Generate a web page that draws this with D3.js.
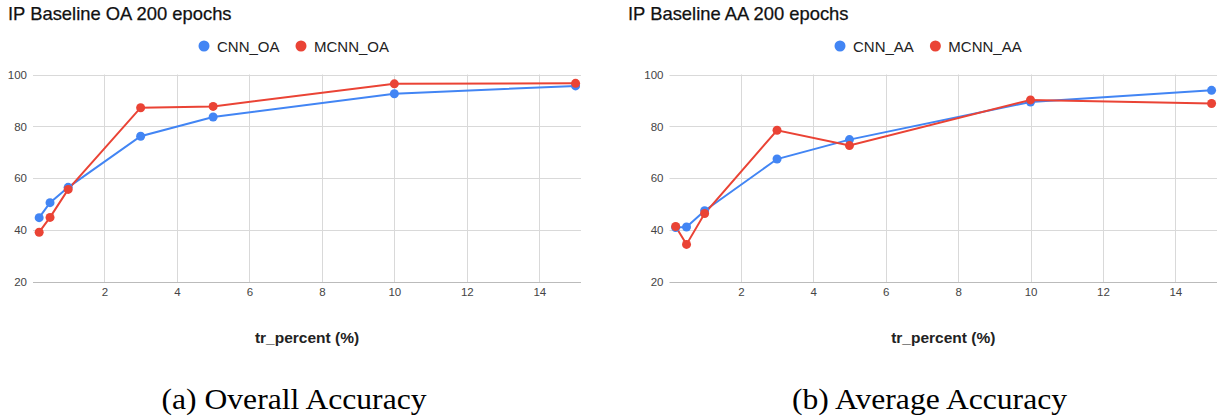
<!DOCTYPE html>
<html>
<head>
<meta charset="utf-8">
<script src="https://cdn.jsdelivr.net/npm/d3@7"></script>
<style>
  body { margin: 0; background: #fff; }
  svg { display: block; }
</style>
</head>
<body>
<div id="chart"></div>
<script>
// Training percentages (x values)
const trPercent = [0.2, 0.5, 1, 3, 5, 10, 15];

// Overall accuracy
const cnnOA = [44.8, 50.6, 56.5, 76.2, 83.6, 92.6, 95.6];
const mcnnOA = [39.2, 44.9, 55.7, 87.2, 87.7, 96.4, 96.6];

// Average accuracy
const cnnAA = [41.0, 41.2, 47.5, 67.4, 74.9, 89.4, 93.9];
const mcnnAA = [41.4, 34.5, 46.4, 78.5, 72.6, 90.2, 88.8];

const xTicks = [2, 4, 6, 8, 10, 12, 14];
const yTicks = [20, 40, 60, 80, 100];

const blue = '#4285f4', red = '#ea4335';
const sans = '"Liberation Sans", Arial, sans-serif';

const svgWidth = 1225, svgHeight = 417;
const svg = d3.select('#chart')
    .append('svg')
    .attr('width', svgWidth)
    .attr('height', svgHeight);

const panels = [
    { left: 0, title: 'IP Baseline OA 200 epochs', names: ['CNN_OA', 'MCNN_OA'],
      series: [cnnOA, mcnnOA], plotX: [33, 581], legendX: 204,
      caption: '(a) Overall Accuracy', captionX: 294, captionW: 265 },
    { left: 620, title: 'IP Baseline AA 200 epochs', names: ['CNN_AA', 'MCNN_AA'],
      series: [cnnAA, mcnnAA], plotX: [669.5, 1217], legendX: 840,
      caption: '(b) Average Accuracy', captionX: 929.5, captionW: 275 }
];

panels.forEach(p => {
    const g = svg.append('g');

    // Scales
    const x = d3.scaleLinear().domain([0.03, 15.15]).range(p.plotX);
    const y = d3.scaleLinear().domain([20, 100]).range([282, 74.5]);

    // Title
    g.append('text')
        .attr('x', p.left + 8)
        .attr('y', 19.5)
        .style('font-family', sans)
        .style('font-size', '18.4px')
        .style('fill', '#111')
        .style('stroke', '#111')
        .style('stroke-width', 0.25)
        .text(p.title);

    // Gridlines
    g.selectAll('.hgrid')
        .data(yTicks)
        .enter()
        .append('line')
        .attr('x1', p.plotX[0])
        .attr('x2', p.plotX[1])
        .attr('y1', d => Math.round(y(d)) + 0.5)
        .attr('y2', d => Math.round(y(d)) + 0.5)
        .attr('stroke', d => d === 20 ? '#bbb' : '#d9d9d9')
        .attr('stroke-width', 1);

    g.selectAll('.vgrid')
        .data(xTicks)
        .enter()
        .append('line')
        .attr('x1', d => Math.round(x(d)) + 0.5)
        .attr('x2', d => Math.round(x(d)) + 0.5)
        .attr('y1', y(100))
        .attr('y2', y(20))
        .attr('stroke', '#d9d9d9')
        .attr('stroke-width', 1);

    // Axes with no domain path, only labels
    const yAxis = g.append('g')
        .attr('transform', `translate(${p.plotX[0] - 6}, 0)`)
        .call(d3.axisLeft(y).tickValues(yTicks).tickSize(0).tickPadding(0));
    yAxis.select('.domain').remove();
    yAxis.selectAll('text')
        .style('font-family', sans)
        .style('font-size', '11.5px')
        .style('fill', '#444');

    const xAxis = g.append('g')
        .attr('transform', `translate(0, ${y(20) + 6})`)
        .call(d3.axisBottom(x).tickValues(xTicks).tickSize(0).tickPadding(0));
    xAxis.select('.domain').remove();
    xAxis.selectAll('text')
        .style('font-family', sans)
        .style('font-size', '11.5px')
        .style('fill', '#444');

    // X axis title
    g.append('text')
        .attr('x', (p.plotX[0] + p.plotX[1]) / 2)
        .attr('y', 343)
        .attr('text-anchor', 'middle')
        .style('font-family', sans)
        .style('font-size', '15.5px')
        .style('font-weight', 'bold')
        .style('fill', '#222')
        .text('tr_percent (%)');

    // Lines and points
    const line = d3.line()
        .x((d, i) => x(trPercent[i]))
        .y(d => y(d));

    const colors = [blue, red];
    p.series.forEach((s, k) => {
        g.append('path')
            .datum(s)
            .attr('fill', 'none')
            .attr('stroke', colors[k])
            .attr('stroke-width', 2)
            .attr('d', line);
    });
    p.series.forEach((s, k) => {
        g.selectAll('.pt' + k)
            .data(s)
            .enter()
            .append('circle')
            .attr('cx', (d, i) => x(trPercent[i]))
            .attr('cy', d => y(d))
            .attr('r', 4.5)
            .attr('fill', colors[k]);
    });

    // Legend
    const legend = g.append('g').attr('transform', `translate(${p.legendX}, 46)`);
    let lx = 0;
    p.names.forEach((name, k) => {
        legend.append('circle')
            .attr('cx', lx)
            .attr('cy', 0)
            .attr('r', 5.5)
            .attr('fill', colors[k]);
        const t = legend.append('text')
            .attr('x', lx + 13)
            .attr('y', 5.5)
            .style('font-family', sans)
            .style('font-size', '15px')
            .style('fill', '#222')
            .text(name);
        lx += 13 + t.node().getComputedTextLength() + 21.5;
    });

    // Caption
    g.append('text')
        .attr('x', p.captionX)
        .attr('y', 409)
        .attr('text-anchor', 'middle')
        .attr('textLength', p.captionW)
        .attr('lengthAdjust', 'spacingAndGlyphs')
        .style('font-family', '"Liberation Serif", "DejaVu Serif", serif')
        .style('font-size', '29px')
        .style('fill', '#000')
        .text(p.caption);
});
</script>
</body>
</html>
